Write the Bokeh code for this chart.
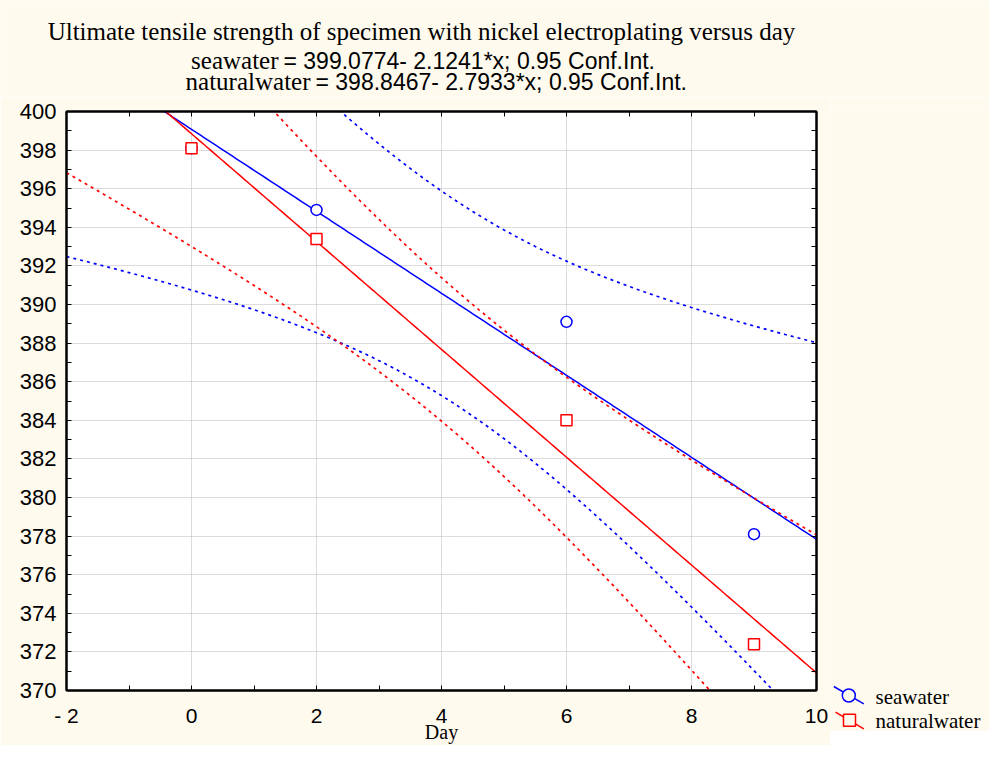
import numpy as np
from bokeh.plotting import figure
from bokeh.models import LinearAxis, FixedTicker, Range1d
from bokeh.layouts import column, row
from bokeh.core.properties import value
from bokeh.embed import file_html
from bokeh.resources import INLINE

# ---------------- data ----------------
days_sea = [0, 2, 6, 9]
uts_sea = [398.1, 394.9, 389.1, 378.1]
days_nat = [0, 2, 6, 9]
uts_nat = [398.1, 393.4, 384.0, 372.4]

sea_intercept, sea_slope = 399.0774, -2.1241
nat_intercept, nat_slope = 398.8467, -2.7933
t_975_df2 = 4.3027

title_text = "Ultimate tensile strength of specimen with nickel electroplating versus day"
sea_name = "seawater"
nat_name = "naturalwater"
sea_eq = "= 399.0774- 2.1241*x; 0.95 Conf.Int."
nat_eq = "= 398.8467- 2.7933*x; 0.95 Conf.Int."
x_label = "Day"

x_ticks = [-2, 0, 2, 4, 6, 8, 10]
x_minor = [-1, 1, 3, 5, 7, 9]
y_ticks = list(range(370, 401, 2))
y_minor = list(range(371, 400, 2))

# ---------------- style / layout ----------------
BG = "#FFFAEE"
BLUE = "#0000FF"
RED = "#FF0000"
SANS = "Liberation Sans"
SERIF = "Liberation Serif"

W, H = 989, 745
HEAD_H = 97
MAIN_W = 830
SIDE_W = W - MAIN_W
BODY_H = H - HEAD_H
MAIN_TOP = 14
MAIN_BOTTOM = 55


def fit_band(xd, yd, b0, b1, xs):
    xd = np.asarray(xd, float)
    yd = np.asarray(yd, float)
    n = len(xd)
    resid = yd - (b0 + b1 * xd)
    s = np.sqrt(np.sum(resid ** 2) / (n - 2))
    sxx = np.sum((xd - xd.mean()) ** 2)
    yhat = b0 + b1 * xs
    half = t_975_df2 * s * np.sqrt(1.0 / n + (xs - xd.mean()) ** 2 / sxx)
    return yhat, yhat - half, yhat + half


def blank_fig(w, h):
    f = figure(width=w, height=h, frame_width=w, frame_height=h,
               x_range=Range1d(0, w), y_range=Range1d(h, 0),
               output_backend="svg", toolbar_location=None, title_location=None,
               x_axis_location=None, y_axis_location=None,
               min_border=0, min_border_left=0, min_border_right=0,
               min_border_top=0, min_border_bottom=0,
               background_fill_color=BG, border_fill_color=BG)
    f.outline_line_color = None
    f.xgrid.visible = False
    f.ygrid.visible = False
    return f


def htext(f, x, y, t, font, size, align):
    f.text(x=[x], y=[y], text=[t], text_font=value(font), text_font_size=value(size),
           text_align=align, text_baseline="alphabetic", text_color="black")


# ---------------- header ----------------
head = blank_fig(W, HEAD_H)
htext(head, 421, 31, title_text, SERIF, "25px", "center")
htext(head, 278, 60, sea_name, SERIF, "25px", "right")
htext(head, 283, 60, sea_eq, SANS, "23px", "left")
htext(head, 310, 81, nat_name, SERIF, "25px", "right")
htext(head, 315, 81, nat_eq, SANS, "23px", "left")

# ---------------- main plot ----------------
p = figure(width=MAIN_W, height=BODY_H, x_range=(-2, 10), y_range=(370, 400),
           output_backend="svg", toolbar_location=None, title_location=None,
           min_border_left=66, min_border_right=14,
           min_border_top=MAIN_TOP, min_border_bottom=MAIN_BOTTOM,
           background_fill_color="white", border_fill_color=BG)
p.outline_line_color = "black"
p.outline_line_width = 2

xs = np.linspace(-2, 10, 241)
for xd, yd, b0, b1, col in [(days_sea, uts_sea, sea_intercept, sea_slope, BLUE),
                            (days_nat, uts_nat, nat_intercept, nat_slope, RED)]:
    yhat, lo, hi = fit_band(xd, yd, b0, b1, xs)
    p.line(xs, lo, line_color=col, line_width=1.7, line_dash="3 4")
    p.line(xs, hi, line_color=col, line_width=1.7, line_dash="3 4")
    p.line(xs, yhat, line_color=col, line_width=1.5)

p.scatter(days_sea, uts_sea, marker="circle", size=11, line_color=BLUE,
          line_width=1.5, fill_color="white")
p.scatter(days_nat, uts_nat, marker="square", size=11, line_color=RED,
          line_width=1.5, fill_color="white")


def style_axis(ax, ticks, minor, label_size):
    ax.ticker = FixedTicker(ticks=ticks, minor_ticks=minor)
    ax.axis_line_color = "black"
    ax.axis_line_width = 2
    ax.major_tick_in = 5
    ax.major_tick_out = 0
    ax.minor_tick_in = 5
    ax.minor_tick_out = 0
    ax.major_tick_line_color = "black"
    ax.minor_tick_line_color = "black"
    ax.major_tick_line_width = 1
    ax.minor_tick_line_width = 1
    if label_size:
        ax.major_label_text_font = SANS
        ax.major_label_text_font_size = label_size
        ax.major_label_text_color = "black"
    else:
        ax.major_label_text_font_size = "0px"
        ax.major_label_standoff = 0


xa = p.xaxis[0]
style_axis(xa, x_ticks, x_minor, "21px")
xa.major_label_overrides = {-2: "- 2"}
xa.major_label_standoff = 13
xa.axis_label = x_label
xa.axis_label_text_font = SERIF
xa.axis_label_text_font_size = "20px"
xa.axis_label_text_font_style = "normal"
xa.axis_label_text_color = "black"
xa.axis_label_standoff = -9

ya = p.yaxis[0]
style_axis(ya, y_ticks, y_minor, "22px")
ya.major_label_standoff = 10

top = LinearAxis()
style_axis(top, x_ticks, x_minor, None)
p.add_layout(top, "above")
right = LinearAxis()
style_axis(right, y_ticks, y_minor, None)
p.add_layout(right, "right")

for g, t in [(p.xgrid[0], x_ticks), (p.ygrid[0], y_ticks)]:
    g.ticker = FixedTicker(ticks=t)
    g.grid_line_color = "#B8B8B8"
    g.grid_line_dash = "1 1"
    g.grid_line_width = 1

# ---------------- legend strip ----------------
# its frame lines up with the top of the main frame (page y = HEAD_H + MAIN_TOP)
SIDE_FRAME_H = H - HEAD_H - MAIN_TOP
side = blank_fig(SIDE_W, SIDE_FRAME_H)
side.segment(x0=[3.3, 5], y0=[575, 600.7], x1=[33.3, 33.3], y1=[592.3, 617.3],
             line_color=[BLUE, RED], line_width=1.5)
side.scatter(x=[18.3], y=[584], marker="circle", size=13, line_color=BLUE,
             line_width=1.5, fill_color=BG)
side.scatter(x=[19], y=[608.7], marker="square", size=12, line_color=RED,
             line_width=1.5, fill_color=BG)
htext(side, 45, 585, sea_name, SERIF, "21px", "left")
htext(side, 45, 609, nat_name, SERIF, "21px", "left")

layout = column(head, row(p, side, spacing=0), spacing=0)

open("out.html", "w").write(file_html(layout, INLINE))
